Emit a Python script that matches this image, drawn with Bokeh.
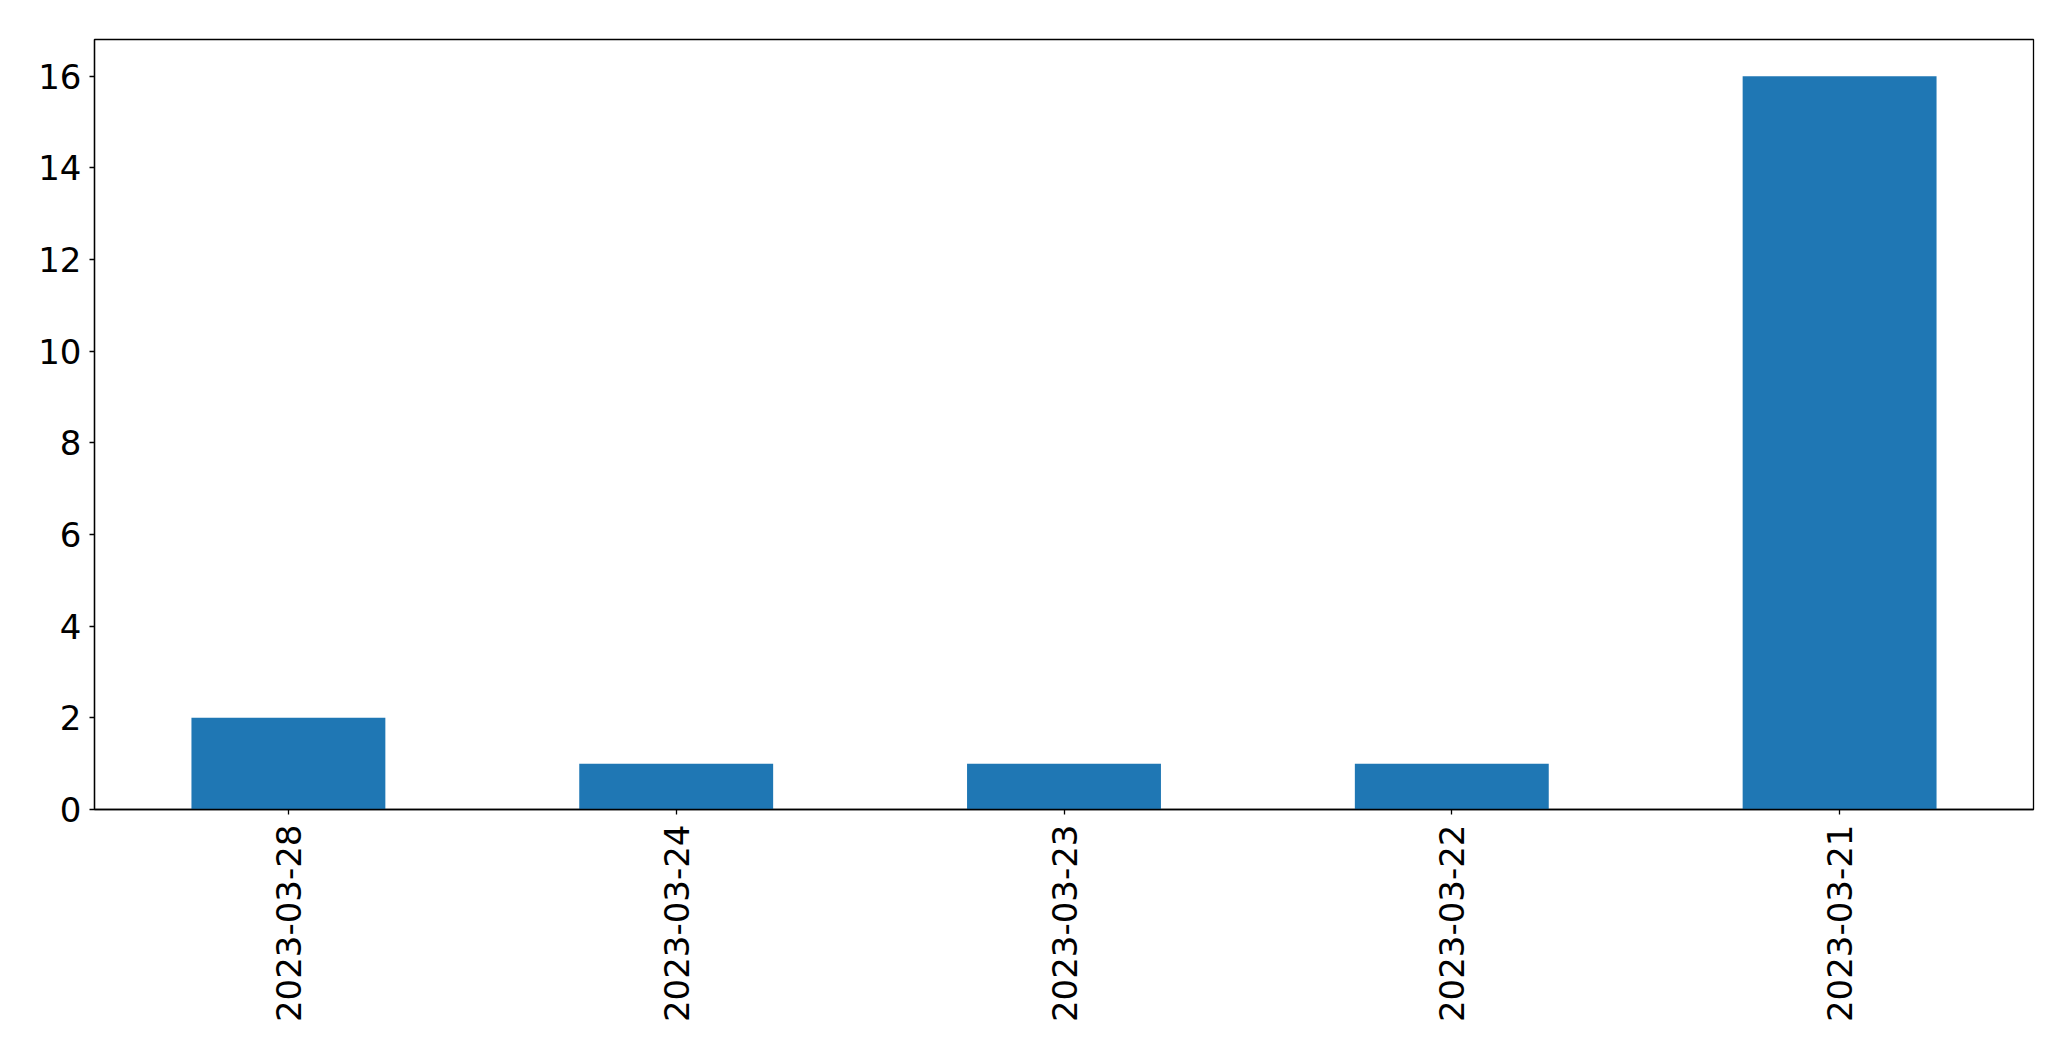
import math
from bokeh.plotting import figure
from bokeh.models import ColumnDataSource, FactorRange, Range1d, FixedTicker
from bokeh.embed import file_html
from bokeh.resources import INLINE

dates = ["2023-03-28", "2023-03-24", "2023-03-23", "2023-03-22", "2023-03-21"]
counts = [2, 1, 1, 1, 16]
y_ticks = [0, 2, 4, 6, 8, 10, 12, 14, 16]

src = ColumnDataSource(data=dict(dates=dates, counts=counts))

p = figure(width=2055, height=1045, output_backend="svg", toolbar_location=None,
           x_range=FactorRange(factors=dates, range_padding=0),
           y_range=Range1d(0, 16.8),
           min_border_left=94, min_border_top=39, min_border_right=22, min_border_bottom=236)

p.vbar(x="dates", top="counts", width=0.5, source=src, fill_color="#1f77b4", line_color=None)

p.xgrid.visible = False
p.ygrid.visible = False
p.outline_line_color = "black"
p.outline_line_width = 1.3
p.outline_line_alpha = 1

font = "DejaVu Sans"
for ax in (p.xaxis[0], p.yaxis[0]):
    ax.axis_line_color = "black"
    ax.axis_line_width = 1.3
    ax.major_tick_line_color = "black"
    ax.major_tick_line_width = 1.3
    ax.major_tick_out = 5
    ax.major_tick_in = 0
    ax.minor_tick_line_color = None
    ax.major_label_text_font = font
    ax.major_label_text_font_size = "34px"
    ax.major_label_text_color = "black"

p.xaxis.major_label_orientation = math.pi / 2
p.xaxis.major_label_standoff = 10
p.yaxis.major_label_standoff = 8
p.yaxis.ticker = FixedTicker(ticks=y_ticks)

open("out.html", "w").write(file_html(p, INLINE))
